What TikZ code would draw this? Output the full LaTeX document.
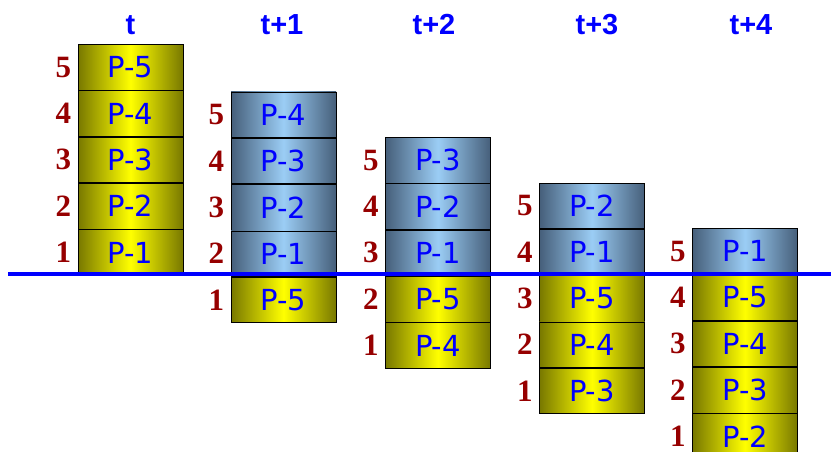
\documentclass[tikz,border=0pt]{standalone}
\usepackage{fontspec}
\newfontfamily\pagefont{DejaVu Sans}
\newfontfamily\slotfont{Liberation Serif}
\newfontfamily\stepfont{Liberation Sans}
\usetikzlibrary{positioning}
\definecolor{olivedark}{RGB}{120,120,0}
\definecolor{slatedark}{RGB}{70,95,122}
\definecolor{skylight}{RGB}{155,205,245}
\definecolor{slotred}{RGB}{150,0,0}
\tikzset{
  page/.style={rectangle,draw=black,line width=0.8pt,minimum width=105pt,minimum height=45.5pt,
    inner sep=0pt,text=blue,font=\pagefont\fontsize{29}{32}\selectfont},
  inpage/.style={page,left color=olivedark,right color=olivedark,middle color=yellow},
  outpage/.style={page,left color=slatedark,right color=slatedark,middle color=skylight},
  slot/.style={text=slotred,font=\slotfont\bfseries\fontsize{31}{34}\selectfont},
  stephead/.style={text=blue,font=\stepfont\bfseries\fontsize{29}{32}\selectfont}
}
\begin{document}
\begin{tikzpicture}[x=1pt,y=-1pt]
  \useasboundingbox (0,0) rectangle (831,452);
  % Step t
  \node (a5) [inpage] at (130.5,67.25) {P-5};
  \node (a4) [inpage,below=0pt of a5] {P-4};
  \node (a3) [inpage,below=0pt of a4] {P-3};
  \node (a2) [inpage,below=0pt of a3] {P-2};
  \node (a1) [inpage,below=0pt of a2] {P-1};
  % Step t+1
  \node (b5) [outpage] at (283.5,114.75) {P-4};
  \node (b4) [outpage,below=0pt of b5] {P-3};
  \node (b3) [outpage,below=0pt of b4] {P-2};
  \node (b2) [outpage,below=0pt of b3] {P-1};
  \node (b1) [inpage,below=0pt of b2] {P-5};
  % Step t+2
  \node (c5) [outpage] at (438,160.25) {P-3};
  \node (c4) [outpage,below=0pt of c5] {P-2};
  \node (c3) [outpage,below=0pt of c4] {P-1};
  \node (c2) [inpage,below=0pt of c3] {P-5};
  \node (c1) [inpage,below=0pt of c2] {P-4};
  % Step t+3
  \node (d5) [outpage] at (592,205.75) {P-2};
  \node (d4) [outpage,below=0pt of d5] {P-1};
  \node (d3) [inpage,below=0pt of d4] {P-5};
  \node (d2) [inpage,below=0pt of d3] {P-4};
  \node (d1) [inpage,below=0pt of d2] {P-3};
  % Step t+4
  \node (e5) [outpage] at (745,251.25) {P-1};
  \node (e4) [inpage,below=0pt of e5] {P-5};
  \node (e3) [inpage,below=0pt of e4] {P-4};
  \node (e2) [inpage,below=0pt of e3] {P-3};
  \node (e1) [inpage,below=0pt of e2] {P-2};
  % slot numbers
  \foreach \c in {a,b,c,d,e}
    \foreach \i in {1,...,5}
      \node (n\c\i) [slot,left=3pt of \c\i] {\i};
  % time steps
  \node (ha) [stephead] at (130.5,25) {t};
  \node (hb) [stephead] at (282,25) {t+1};
  \node (hc) [stephead] at (434,25) {t+2};
  \node (hd) [stephead] at (597,25) {t+3};
  \node (he) [stephead] at (751,25) {t+4};
  % memory line
  \coordinate (lw) at (8,274);
  \coordinate (le) at (831,274);
  \draw[blue,line width=4.7pt] (lw) -- (le);
\end{tikzpicture}
\end{document}
